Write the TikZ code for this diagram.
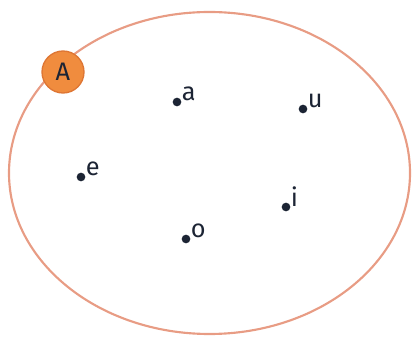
\documentclass[tikz,border=0pt]{standalone}
\usepackage{fontspec}
\setmainfont{Fira Sans}
\usetikzlibrary{positioning}
\definecolor{SetLine}{RGB}{232,156,132}
\definecolor{SetFill}{RGB}{240,140,62}
\definecolor{SetEdge}{RGB}{222,118,52}
\definecolor{Ink}{RGB}{28,36,52}
\tikzset{
  setline/.style={draw=SetLine,line width=1.6pt},
  setname/.style={circle,draw=SetEdge,line width=1pt,fill=SetFill,text=Ink,font=\fontsize{19}{22}\selectfont,minimum size=31.5pt,inner sep=0pt},
  elem/.style={circle,fill=Ink,minimum size=6.5pt,inner sep=0pt},
  elemlabel/.style={font=\fontsize{19}{22}\selectfont,text=Ink,inner sep=1pt}
}

\begin{document}
\begin{tikzpicture}[x=0.75pt,y=-0.75pt]
  \useasboundingbox (0,0) rectangle (414,338);
  % the set
  \draw[setline] (209.5,173) ellipse [x radius=200.5,y radius=161];
  \node[setname] (A) at (63,72) {A};
  % elements
  \node[elem] (a) at (177,102) {};
  \node[elem] (u) at (303,109) {};
  \node[elem] (e) at (81,177) {};
  \node[elem] (i) at (286,207) {};
  \node[elem] (o) at (186,239) {};
  \node[elemlabel,above right=-3pt and 0pt of a] (la) {a};
  \node[elemlabel,above right=-3pt and 0pt of u] (lu) {u};
  \node[elemlabel,above right=-3pt and 0pt of e] (le) {e};
  \node[elemlabel,above right=-3pt and 0pt of i] (li) {i};
  \node[elemlabel,above right=-3pt and 0pt of o] (lo) {o};
\end{tikzpicture}
\end{document}
